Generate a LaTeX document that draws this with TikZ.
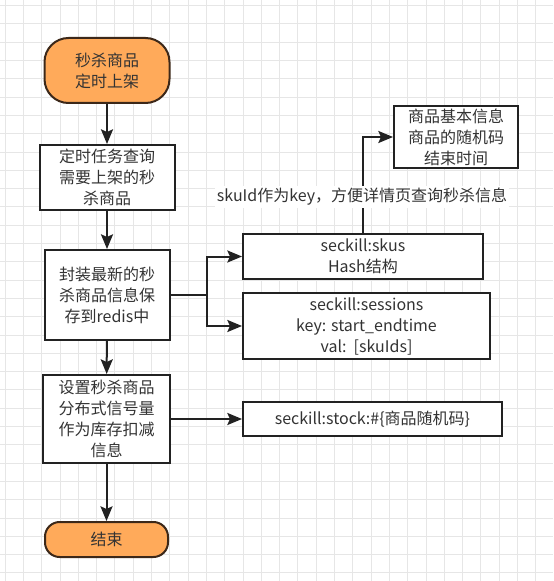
\documentclass[tikz,border=0pt]{standalone}
\usepackage{fontspec}
\setmainfont{Noto Sans CJK SC}
\usetikzlibrary{arrows.meta, positioning}
\definecolor{ink}{RGB}{51, 51, 51}
\definecolor{edge}{RGB}{34, 34, 34}
\definecolor{termfill}{RGB}{255, 170, 90}
\definecolor{termedge}{RGB}{60, 40, 25}
\definecolor{gridcol}{RGB}{230, 230, 230}
\tikzset{
    font=\fontsize{12pt}{15.75pt}\selectfont,
    terminal/.style={rectangle, draw=termedge, fill=termfill, line width=1.5pt, text=ink, align=center, inner sep=0pt},
    process/.style={rectangle, draw=edge, fill=white, line width=1.5pt, text=ink, align=center, inner sep=0pt},
    store/.style={rectangle, draw=edge, fill=white, line width=1.5pt, text=ink, align=center, inner sep=0pt},
    arrow/.style={-{Stealth[length=11pt, width=9pt, inset=2pt]}, line width=1.5pt, color=edge},
    gridline/.style={draw=gridcol, line width=0.6pt},
    label_text/.style={fill=white, text=ink, inner sep=1.5pt}
}

\begin{document}
\begin{tikzpicture}[x=0.75pt, y=-0.75pt]

    % canvas and grid
    \useasboundingbox (0,0) rectangle (553,581);
    \fill[white] (0,0) rectangle (553,581);
    \foreach \gx in {5,23.3,...,553} \draw[gridline] (\gx,0) -- (\gx,581);
    \foreach \gy in {5.5,23.8,...,581} \draw[gridline] (0,\gy) -- (553,\gy);

    % main column
    \node (start)  [terminal, rounded corners=18pt, minimum width=93.75pt, minimum height=48.75pt] at (107,70.5) {秒杀商品\\定时上架};
    \node (query)  [process, minimum width=101.25pt, minimum height=48.75pt] at (107,177.5) {定时任务查询\\需要上架的秒\\杀商品};
    \node (pack)   [process, minimum width=93.75pt, minimum height=67.5pt] at (107,295) {封装最新的秒\\杀商品信息保\\存到redis中};
    \node (sema)   [process, minimum width=95.25pt, minimum height=66pt] at (106.5,419) {设置秒杀商品\\分布式信号量\\作为库存扣减\\信息};
    \node (finish) [terminal, rounded corners=11pt, minimum width=92.25pt, minimum height=26.25pt] at (106.5,539.5) {结束};

    % redis keys
    \node (skus)     [store, minimum width=180pt, minimum height=33.75pt] at (363,256.5) {seckill:skus\\Hash结构};
    \node (sessions) [store, minimum width=185.25pt, minimum height=49.5pt] at (366.5,326) {seckill:sessions\\key: start\_endtime\\val:~~[skuIds]};
    \node (info)     [store, minimum width=93pt, minimum height=46.5pt] at (456,137) {商品基本信息\\商品的随机码\\结束时间};
    \node (stock)    [store, minimum width=194.25pt, minimum height=25.5pt] at (372.5,419) {seckill:stock:\#\{商品随机码\}};

    \coordinate (split) at ([xshift=27pt]pack.east);

    \draw [arrow] (start) -- (query);
    \draw [arrow] (query) -- (pack);
    \draw [arrow] (pack) -- (sema);
    \draw [arrow] (sema) -- (finish);
    \draw [line width=1.5pt, color=edge] (pack.east) -- (split);
    \draw [arrow] (split) |- (skus.west);
    \draw [arrow] (split) |- (sessions.west);
    \draw [arrow] (skus.north) |- (info.west);
    \draw [arrow] (sema.east |- stock.west) -- (stock.west);

    \node (keynote) [label_text] at (362,197) {skuId作为key，方便详情页查询秒杀信息};

\end{tikzpicture}
\end{document}
